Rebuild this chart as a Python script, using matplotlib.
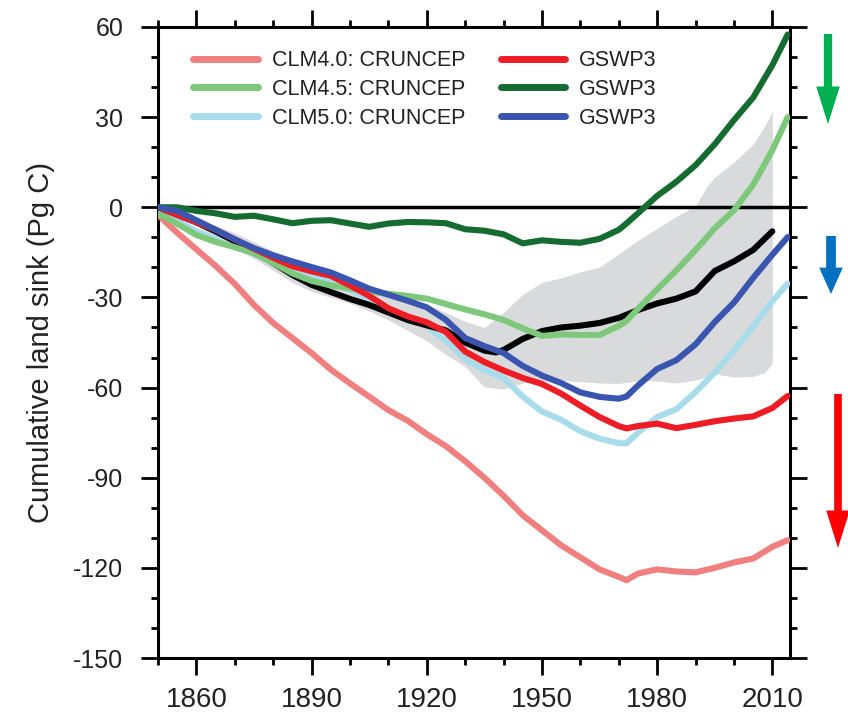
import matplotlib
matplotlib.use("Agg")
import matplotlib.pyplot as plt
from matplotlib.lines import Line2D
from matplotlib.patches import FancyArrowPatch
from matplotlib.ticker import MultipleLocator

plt.rcParams['font.family'] = ['Liberation Sans', 'DejaVu Sans']
plt.rcParams['axes.unicode_minus'] = False

# ---------------- data (Pg C) ----------------
yrs_m = [1850, 1855, 1860, 1865, 1870, 1875, 1880, 1885, 1890, 1895, 1900, 1905, 1910,
         1915, 1920, 1925, 1930, 1935, 1940, 1945, 1950, 1955, 1960, 1965, 1970, 1972,
         1975, 1980, 1985, 1990, 1995, 2000, 2005, 2010, 2014]

clm40_cru = [-2.5, -8.5, -14.0, -19.5, -25.5, -32.5, -38.5, -43.5, -48.5, -54.0, -58.6, -63.0, -67.5,
             -71.0, -75.5, -79.5, -84.5, -90.0, -96.0, -102.5, -107.5, -112.5, -116.5, -120.5, -123.0, -124.1,
             -121.9, -120.5, -121.2, -121.5, -120.0, -118.2, -116.9, -113.0, -110.8]
clm40_gsw = [0.0, -2.5, -5.0, -7.5, -10.7, -13.8, -16.8, -19.6, -21.3, -22.8, -26.0, -29.5, -33.6,
             -36.3, -38.3, -41.5, -48.0, -51.5, -54.3, -56.8, -58.8, -62.0, -66.0, -69.8, -72.8, -73.6,
             -72.8, -72.0, -73.5, -72.4, -71.2, -70.3, -69.6, -66.8, -62.8]
clm45_cru = [-2.0, -5.5, -9.2, -11.5, -13.3, -15.3, -18.5, -22.0, -24.5, -26.0, -27.0, -28.0, -28.8,
             -29.5, -30.4, -32.2, -34.0, -35.6, -37.5, -40.3, -42.8, -42.3, -42.5, -42.5, -39.5, -37.8,
             -33.8, -27.3, -21.0, -14.2, -7.0, -1.0, 7.5, 19.0, 30.0]
clm45_gsw = [0.0, 0.0, -1.2, -2.0, -3.2, -2.8, -4.0, -5.3, -4.5, -4.3, -5.4, -6.5, -5.4,
             -4.9, -5.0, -5.3, -7.3, -7.8, -9.0, -12.0, -11.0, -11.5, -11.8, -10.5, -7.5, -5.4,
             -2.0, 3.8, 8.5, 14.0, 21.0, 29.0, 36.5, 47.3, 57.5]
clm50_cru = [-1.5, -4.5, -8.0, -10.5, -13.0, -15.5, -18.5, -21.0, -23.0, -25.0, -27.5, -30.5, -34.0,
             -37.0, -39.5, -44.5, -50.5, -54.2, -56.8, -63.0, -68.0, -70.7, -74.5, -77.0, -78.5, -78.6,
             -75.0, -69.8, -67.2, -61.5, -55.0, -47.7, -39.6, -31.3, -25.4]
clm50_gsw = [0.0, -1.2, -4.3, -7.5, -10.7, -13.6, -16.0, -18.0, -19.9, -21.7, -24.3, -27.1, -29.1,
             -31.1, -33.3, -37.5, -43.5, -46.2, -48.5, -52.8, -56.0, -58.5, -61.6, -63.1, -63.7, -63.0,
             -59.3, -53.8, -50.9, -45.6, -38.2, -31.7, -23.5, -15.8, -9.9]

yrs_obs = [1850, 1855, 1860, 1865, 1870, 1875, 1880, 1885, 1890, 1895, 1900, 1905, 1910,
           1915, 1920, 1925, 1930, 1935, 1938, 1940, 1945, 1950, 1955, 1960, 1965, 1970,
           1975, 1980, 1985, 1990, 1995, 2000, 2005, 2010]
obs_mean = [0.0, -2.5, -5.0, -8.0, -11.3, -14.5, -18.5, -22.5, -25.8, -28.2, -30.5, -32.5, -35.0,
            -37.5, -39.3, -41.0, -45.0, -47.7, -48.3, -47.5, -43.8, -41.2, -40.0, -39.4, -38.5, -36.8,
            -34.2, -32.0, -30.4, -28.0, -21.2, -18.0, -14.2, -8.0]

yrs_band = [1850, 1855, 1860, 1865, 1870, 1875, 1880, 1885, 1890, 1895, 1900, 1905, 1910,
            1915, 1920, 1925, 1930, 1935, 1940, 1945, 1950, 1955, 1960, 1965, 1970, 1975,
            1980, 1985, 1990, 1993, 1995, 2000, 2005, 2008, 2010]
band_hi = [0.0, -1.5, -3.5, -6.0, -8.5, -11.5, -14.5, -17.5, -20.0, -22.5, -24.5, -26.5, -28.5,
           -30.5, -32.5, -35.0, -38.0, -40.0, -35.0, -29.0, -25.0, -23.5, -21.5, -19.9, -15.5, -11.0,
           -7.0, -3.0, 0.5, 7.0, 10.0, 15.0, 21.0, 27.0, 32.0]
band_lo = [0.0, -3.0, -6.0, -10.0, -13.5, -17.0, -21.0, -25.0, -28.0, -30.0, -32.0, -34.5, -37.5,
           -41.0, -44.5, -49.0, -53.0, -59.8, -60.5, -58.5, -57.8, -57.6, -58.0, -58.5, -58.6, -57.8,
           -57.8, -58.5, -57.5, -56.5, -55.4, -56.5, -56.3, -55.0, -52.0]

labels = ['CLM4.0: CRUNCEP', 'CLM4.5: CRUNCEP', 'CLM5.0: CRUNCEP', 'GSWP3', 'GSWP3', 'GSWP3']
colors = ['#F08080', '#7DC87A', '#A8DCEA', '#EE1C25', '#166B30', '#3A55B0']

# ---------------- figure ----------------
fig = plt.figure(figsize=(8.48, 7.18), dpi=100)
ax = fig.add_axes([158/848, 1-658/718, 632/848, 631/718])

ax.fill_between(yrs_band, band_lo, band_hi, color='#D9DADC', lw=0, zorder=1)
ax.axhline(0, color='black', lw=2.5, zorder=2)

lw = 4.4
ax.plot(yrs_m, clm40_cru, color=colors[0], lw=lw, zorder=3, solid_capstyle='round')
ax.plot(yrs_m, clm50_cru, color=colors[2], lw=lw, zorder=3, solid_capstyle='round')
ax.plot(yrs_obs, obs_mean, color='black', lw=lw, zorder=3.5, solid_capstyle='round')
ax.plot(yrs_m, clm45_cru, color=colors[1], lw=lw, zorder=4, solid_capstyle='round')
ax.plot(yrs_m, clm40_gsw, color=colors[3], lw=lw, zorder=4, solid_capstyle='round')
ax.plot(yrs_m, clm45_gsw, color=colors[4], lw=lw, zorder=4, solid_capstyle='round')
ax.plot(yrs_m, clm50_gsw, color=colors[5], lw=lw, zorder=5, solid_capstyle='round')

ax.set_xlim(1850, 2014.6)
ax.set_ylim(-150, 60)
ax.set_xticks(range(1860, 2011, 30))
ax.xaxis.set_minor_locator(MultipleLocator(10))
ax.set_yticks(range(-150, 61, 30))
ax.yaxis.set_minor_locator(MultipleLocator(10))

for s in ax.spines.values():
    s.set_linewidth(2.2)
ax.tick_params(which='both', direction='out', top=True, right=True, width=2.0, color='black')
ax.tick_params(which='major', length=12)
ax.tick_params(which='minor', length=5)
ax.tick_params(axis='x', which='major', labelsize=20, pad=9, labelcolor='#222222')
ax.tick_params(axis='y', which='major', labelsize=18, pad=13, labelcolor='#222222')
ax.set_ylabel('Cumulative land sink (Pg C)', fontsize=21, labelpad=13, color='#222222')

handles = [Line2D([], [], color=c, lw=5, solid_capstyle='round') for c in colors]
leg = ax.legend(handles, labels, ncol=2, frameon=False, fontsize=15.5,
                loc='upper left', bbox_to_anchor=(0.042, 0.977), borderaxespad=0,
                handlelength=3.0, handletextpad=0.65, columnspacing=1.65, labelspacing=0.36)
for t in leg.get_texts():
    t.set_color('#222222')

# ---------------- arrows outside the axes ----------------
def fig_arrow(x, y0, y1, color, tail, hw, hl):
    a = FancyArrowPatch((x/848, 1-y0/718), (x/848, 1-y1/718), transform=fig.transFigure,
                        arrowstyle=f'simple,head_length={hl},head_width={hw},tail_width={tail}',
                        mutation_scale=1, color=color, shrinkA=0, shrinkB=0, lw=0)
    fig.patches.append(a)

fig_arrow(828, 34, 124, '#00B050', 6.0, 17, 27)
fig_arrow(831, 236, 294, '#0070C0', 7.0, 17, 19)
fig_arrow(838, 394, 548, '#FF0000', 5.5, 17, 27)

fig.savefig('out.png', dpi=100)
